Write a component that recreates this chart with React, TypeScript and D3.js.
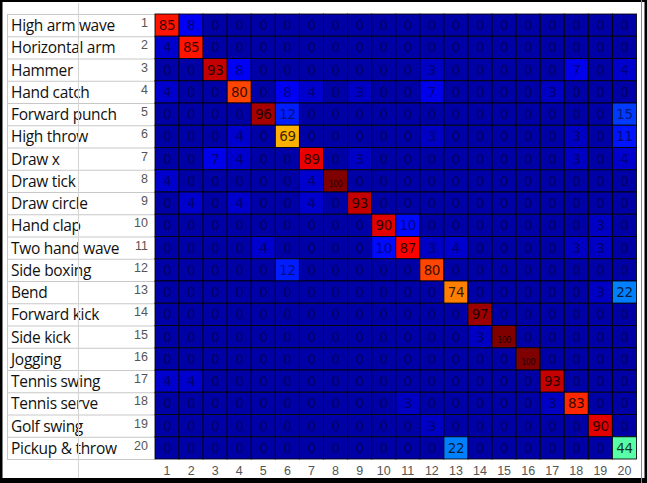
import React from "react";
import * as d3 from "d3";

const classLabels = [
  "High arm wave", "Horizontal arm", "Hammer", "Hand catch", "Forward punch",
  "High throw", "Draw x", "Draw tick", "Draw circle", "Hand clap",
  "Two hand wave", "Side boxing", "Bend", "Forward kick", "Side kick",
  "Jogging", "Tennis swing", "Tennis serve", "Golf swing", "Pickup & throw",
];

const tickLabels = d3.range(1, 21).map(String);

const row1 = [85, 8, 0, 0, 0, 0, 0, 0, 0, 0, 0, 0, 0, 0, 0, 0, 0, 0, 0, 0];
const row2 = [4, 85, 0, 0, 0, 0, 0, 0, 0, 0, 0, 0, 0, 0, 0, 0, 0, 0, 0, 0];
const row3 = [0, 0, 93, 8, 0, 0, 0, 0, 0, 0, 0, 3, 0, 0, 0, 0, 0, 7, 0, 4];
const row4 = [4, 0, 0, 80, 0, 8, 4, 0, 3, 0, 0, 7, 0, 0, 0, 0, 3, 0, 0, 0];
const row5 = [0, 0, 0, 0, 96, 12, 0, 0, 0, 0, 0, 0, 0, 0, 0, 0, 0, 0, 0, 15];
const row6 = [0, 0, 0, 4, 0, 69, 0, 0, 0, 0, 0, 3, 0, 0, 0, 0, 0, 3, 0, 11];
const row7 = [0, 0, 7, 4, 0, 0, 89, 0, 3, 0, 0, 0, 0, 0, 0, 0, 0, 3, 0, 4];
const row8 = [4, 0, 0, 0, 0, 0, 4, 100, 0, 0, 0, 0, 0, 0, 0, 0, 0, 0, 0, 0];
const row9 = [0, 4, 0, 4, 0, 0, 4, 0, 93, 0, 0, 0, 0, 0, 0, 0, 0, 0, 0, 0];
const row10 = [0, 0, 0, 0, 0, 0, 0, 0, 0, 90, 10, 0, 0, 0, 0, 0, 0, 0, 3, 0];
const row11 = [0, 0, 0, 0, 4, 0, 0, 0, 0, 10, 87, 3, 4, 0, 0, 0, 0, 3, 3, 0];
const row12 = [0, 0, 0, 0, 0, 12, 0, 0, 0, 0, 0, 80, 0, 0, 0, 0, 0, 0, 0, 0];
const row13 = [0, 0, 0, 0, 0, 0, 0, 0, 0, 0, 0, 0, 74, 0, 0, 0, 0, 0, 3, 22];
const row14 = [0, 0, 0, 0, 0, 0, 0, 0, 0, 0, 0, 0, 0, 97, 0, 0, 0, 0, 0, 0];
const row15 = [0, 0, 0, 0, 0, 0, 0, 0, 0, 0, 0, 0, 0, 3, 100, 0, 0, 0, 0, 0];
const row16 = [0, 0, 0, 0, 0, 0, 0, 0, 0, 0, 0, 0, 0, 0, 0, 100, 0, 0, 0, 0];
const row17 = [4, 4, 0, 0, 0, 0, 0, 0, 0, 0, 0, 0, 0, 0, 0, 0, 93, 0, 0, 0];
const row18 = [0, 0, 0, 0, 0, 0, 0, 0, 0, 0, 3, 0, 0, 0, 0, 0, 3, 83, 0, 0];
const row19 = [0, 0, 0, 0, 0, 0, 0, 0, 0, 0, 0, 3, 0, 0, 0, 0, 0, 0, 90, 0];
const row20 = [0, 0, 0, 0, 0, 0, 0, 0, 0, 0, 0, 0, 22, 0, 0, 0, 0, 0, 0, 44];

const matrix = [
  row1, row2, row3, row4, row5, row6, row7, row8, row9, row10,
  row11, row12, row13, row14, row15, row16, row17, row18, row19, row20,
];

function jet(t: number): string {
  const c = (v: number) => Math.max(0, Math.min(1, v));
  const r = c(1.5 - Math.abs(4 * t - 3));
  const g = c(1.5 - Math.abs(4 * t - 2));
  const b = c(1.5 - Math.abs(4 * t - 1));
  return d3.rgb(r * 255, g * 255, b * 255).formatHex();
}

export default function App() {
  const W = 647;
  const H = 483;
  const x = d3.scaleBand<string>().domain(tickLabels).range([155, 636.5]).padding(0);
  const y = d3.scaleBand<string>().domain(tickLabels).range([14, 459]).padding(0);
  const color = d3.scaleSequential((t: number) => jet(t)).domain([-4, 100]);
  const bw = x.bandwidth();
  const bh = y.bandwidth();

  const cells: React.ReactNode[] = [];
  const texts: React.ReactNode[] = [];
  matrix.forEach((row, i) => {
    row.forEach((v, j) => {
      const cx = x(tickLabels[j])!;
      const cy = y(tickLabels[i])!;
      cells.push(
        <rect key={`c${i}-${j}`} x={cx} y={cy} width={bw} height={bh}
          fill={color(v)} stroke="#000" strokeWidth={1} strokeOpacity={0.85} />
      );
      const big = v >= 100;
      texts.push(
        <text key={`t${i}-${j}`} x={cx + bw / 2} y={cy + bh / 2 + (big ? 6 : 5)}
          textAnchor="middle" fontFamily="DejaVu Sans" fontSize={big ? 8 : 13.5}
          fill={v > 15 ? "#000" : "#000030"} fillOpacity={v > 15 ? 0.8 : 0.62}
          letterSpacing={big ? -0.5 : -0.4}>
          {v}
        </text>
      );
    });
  });

  return (
    <div style={{ position: "absolute", left: 0, top: 0 }}>
      <svg width={W} height={H} style={{ display: "block", background: "#fff" }}>
        <rect x={0} y={0} width={W} height={H} fill="#fff" />
        {/* label panel */}
        {classLabels.map((lab, i) => {
          const cy = y(tickLabels[i])!;
          return (
            <g key={`l${i}`}>
              <line x1={7} x2={155} y1={cy + 0.5} y2={cy + 0.5} stroke="#c8c8c8" />
              <text x={11} y={cy + bh / 2 + 6} fontFamily="Open Sans" fontSize={15.5}
                fill="#111" letterSpacing={-0.3}>{lab}</text>
              <text x={148} y={cy + bh / 2 + 2} textAnchor="end" fontFamily="Liberation Sans"
                fontSize={12.5} fill="#555">{tickLabels[i]}</text>
            </g>
          );
        })}
        <line x1={7} x2={155} y1={459.5} y2={459.5} stroke="#c8c8c8" />
        <line x1={7.5} x2={7.5} y1={14} y2={459} stroke="#c8c8c8" />
        <line x1={78.5} x2={78.5} y1={3} y2={478} stroke="#d4d4d4" />
        {/* matrix */}
        {cells}
        {texts}
        {/* x ticks */}
        {tickLabels.map((t) => (
          <text key={`x${t}`} x={x(t)! + bw / 2} y={475} textAnchor="middle"
            fontFamily="Liberation Sans" fontSize={12.5} fill="#555">{t}</text>
        ))}
        {/* frame */}
        <line x1={0} x2={W} y1={1} y2={1} stroke="#000" strokeWidth={2} />
        <line x1={1} x2={1} y1={0} y2={H} stroke="#000" strokeWidth={3} />
        <rect x={0} y={478} width={W} height={5} fill="#000" />
        <line x1={641.5} x2={641.5} y1={0} y2={H} stroke="#888" strokeWidth={1} />
        <rect x={644.5} y={0} width={3} height={H} fill="#000" />
      </svg>
    </div>
  );
}
